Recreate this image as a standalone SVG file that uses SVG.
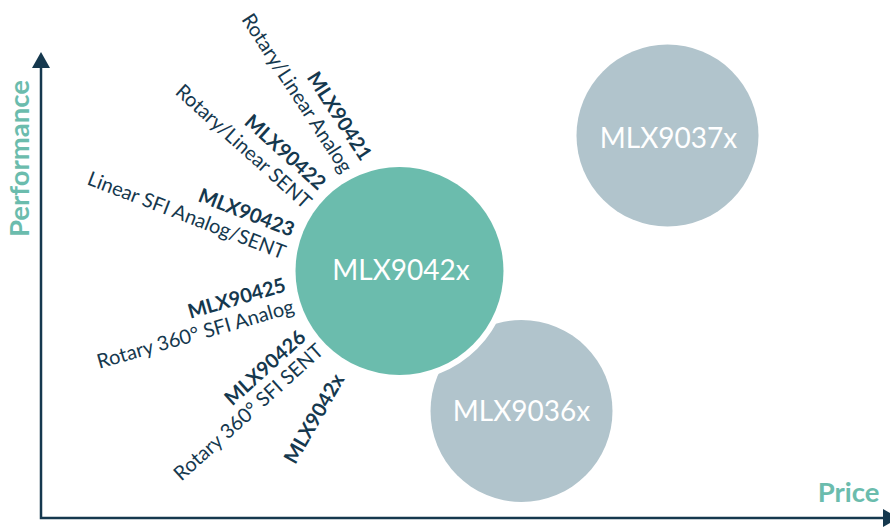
<svg xmlns="http://www.w3.org/2000/svg" width="890" height="527" viewBox="0 0 890 527">
<style>
.ax{stroke:#15384e;stroke-width:2.5;fill:none}
.ah{fill:#15384e}
.axl{font-family:Lato,"Liberation Sans",sans-serif;font-weight:700;font-size:27.5px;fill:#6bbcad}
.cl{font-family:Lato,"Liberation Sans",sans-serif;font-size:28px;fill:#ffffff;text-anchor:middle}
.lb{font-family:Lato,"Liberation Sans",sans-serif;fill:#15384e;text-anchor:end}
.b{font-weight:700;font-size:20px}
.r{font-size:20px}
</style>
<rect width="890" height="527" fill="#ffffff"/>
<g id="axes">
<path class="ax" d="M41,66 V518 H885"/>
<polygon class="ah" points="41,52 32,68 50,68"/>
<polygon class="ah" points="899,518 883,509 883,527"/>
<text class="axl" x="0" y="0" transform="translate(28.5,158.5) rotate(-90)" text-anchor="middle">Performance</text>
<text class="axl" x="879.5" y="501.5" text-anchor="end">Price</text>
</g>
<g id="n9037">
<circle cx="667.5" cy="135.5" r="91" fill="#b1c4cc"/>
<text class="cl" x="668.5" y="148">MLX9037x</text>
</g>
<g id="n9036">
<circle cx="521.5" cy="411" r="91" fill="#b1c4cc"/>
<text class="cl" x="521.5" y="421">MLX9036x</text>
</g>
<g id="n9042">
<circle cx="399.5" cy="271" r="104" fill="#6bbcad" stroke="#ffffff" stroke-width="12"/>
<circle cx="399.5" cy="271" r="104" fill="#6bbcad"/>
<text class="cl" x="401" y="279.5">MLX9042x</text>
</g>
<g id="labels">
<text class="lb" transform="translate(361,162) rotate(57)"><tspan class="b" x="0" y="0">MLX90421</tspan><tspan class="r" x="0" y="23">Rotary/Linear Analog</tspan></text>
<text class="lb" transform="translate(318,191) rotate(42)"><tspan class="b" x="0" y="0">MLX90422</tspan><tspan class="r" x="2" y="23.5">Rotary/Linear SENT</tspan></text>
<text class="lb" transform="translate(291,237) rotate(21)"><tspan class="b" x="0" y="0">MLX90423</tspan><tspan class="r" x="0" y="24">Linear SFI Analog/SENT</tspan></text>
<text class="lb" transform="translate(287,291) rotate(-16)"><tspan class="b" x="0" y="0">MLX90425</tspan><tspan class="r" x="2" y="23">Rotary 360° SFI Analog</tspan></text>
<text class="lb" transform="translate(307,339) rotate(-42)"><tspan class="b" x="0" y="0">MLX90426</tspan><tspan class="r" x="4" y="22">Rotary 360° SFI SENT</tspan></text>
<text class="lb" transform="translate(345,379) rotate(-60)"><tspan class="b" x="0" y="0">MLX9042x</tspan></text>
</g>
</svg>
